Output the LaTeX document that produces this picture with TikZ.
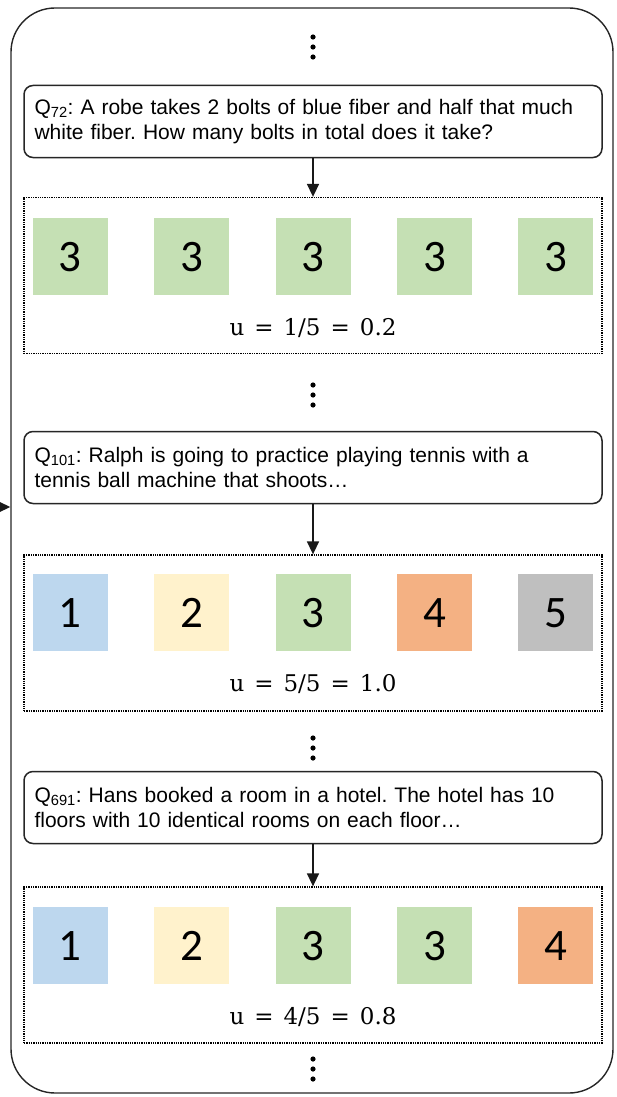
\documentclass[tikz,border=0pt]{standalone}
\usepackage[no-math]{fontspec}
\setmainfont{Liberation Sans}
\newfontfamily\digitfont{Carlito}
\newfontfamily\formulafont{DejaVu Serif}
\usepackage{xcolor}
\usepackage{tikz}
\usetikzlibrary{arrows.meta, positioning, calc}
\definecolor{sqblue}{HTML}{BDD7EE}
\definecolor{sqyellow}{HTML}{FFF2CC}
\definecolor{sqgreen}{HTML}{C5E0B4}
\definecolor{sqorange}{HTML}{F4B183}
\definecolor{sqgray}{HTML}{BFBFBF}
\newcommand{\ueq}[2]{u\hspace{10pt}=\hspace{10pt}#1\hspace{10pt}=\hspace{10pt}#2}
\frenchspacing

\begin{document}
\begin{tikzpicture}[x=1pt, y=1pt,
  outerbox/.style={draw=black!85, line width=1.4pt, rounded corners=44pt,
    minimum width=602pt, minimum height=1085pt, inner sep=0pt},
  qbox/.style={draw=black!85, line width=1.5pt, rounded corners=9pt,
    minimum width=578pt, minimum height=72pt, text width=557pt, align=left,
    font=\fontsize{21}{25}\selectfont, inner sep=0pt},
  rbox/.style={draw=black, densely dotted, line width=1.3pt,
    minimum width=578pt, minimum height=156pt, inner sep=0pt},
  sq/.style={rectangle, minimum width=75pt, minimum height=77pt, inner sep=0pt,
    font=\digitfont\fontsize{45}{45}\selectfont},
  utext/.style={font=\formulafont\fontsize{23}{26}\selectfont, inner sep=0pt},
  vdot/.style={minimum width=7pt, minimum height=28pt, inner sep=0pt,
    path picture={\fill (path picture bounding box.center) circle (2.6pt)
      +(0,10pt) circle (2.6pt) +(0,-10pt) circle (2.6pt);}},
  arr/.style={-{Triangle[length=13pt, width=12pt]}, line width=1.5pt, black!90},
]
\useasboundingbox (0,0) rectangle (616,-1097);
\node[outerbox] (outer) at (312,-550.5) {};
%
% ====== Q72 ======
\node[vdot] (d1) at (313,-47) {};
\node[qbox] (q72) at (313,-121.5)
  {Q\textsubscript{72}: A robe takes 2 bolts of blue fiber and half that much\\
   white fiber. How many bolts in total does it take?};
\node[rbox] (r72) at (313,-275.5) {};
\node[sq, fill=sqgreen] (s72c) at ($(r72.north)+(0,-60)$) {3};
\node[sq, fill=sqgreen, left=46pt of s72c] (s72b) {3};
\node[sq, fill=sqgreen, left=46pt of s72b] (s72a) {3};
\node[sq, fill=sqgreen, right=46pt of s72c] (s72d) {3};
\node[sq, fill=sqgreen, right=46pt of s72d] (s72e) {3};
\node[utext] (u72) at ($(r72.north)+(0,-131)$) {\ueq{1/5}{0.2}};
\draw[arr] (q72) -- (r72);
%
% ====== Q101 ======
\node[vdot] (d2) at (313,-395) {};
\node[qbox] (q101) at (313,-467.5)
  {Q\textsubscript{101}: Ralph is going to practice playing tennis with a\\
   tennis ball machine that shoots\ldots};
\node[rbox] (r101) at (313,-633) {};
\node[sq, fill=sqgreen] (s101c) at ($(r101.north)+(0,-58.5)$) {3};
\node[sq, fill=sqyellow, left=46pt of s101c] (s101b) {2};
\node[sq, fill=sqblue, left=46pt of s101b] (s101a) {1};
\node[sq, fill=sqorange, right=46pt of s101c] (s101d) {4};
\node[sq, fill=sqgray, right=46pt of s101d] (s101e) {5};
\node[utext] (u101) at ($(r101.north)+(0,-130)$) {\ueq{5/5}{1.0}};
\draw[arr] (q101) -- (r101);
%
% ====== Q691 ======
\node[vdot] (d3) at (313,-748) {};
\node[qbox] (q691) at (313,-807.5)
  {Q\textsubscript{691}: Hans booked a room in a hotel. The hotel has 10\\
   floors with 10 identical rooms on each floor\ldots};
\node[rbox] (r691) at (313,-965) {};
\node[sq, fill=sqgreen] (s691c) at ($(r691.north)+(0,-59.5)$) {3};
\node[sq, fill=sqyellow, left=46pt of s691c] (s691b) {2};
\node[sq, fill=sqblue, left=46pt of s691b] (s691a) {1};
\node[sq, fill=sqgreen, right=46pt of s691c] (s691d) {3};
\node[sq, fill=sqorange, right=46pt of s691d] (s691e) {4};
\node[utext] (u691) at ($(r691.north)+(0,-131)$) {\ueq{4/5}{0.8}};
\draw[arr] (q691) -- (r691);
\node[vdot] (d4) at (313,-1069) {};
%
% incoming arrow from the left
\coordinate (feed) at (0,-507);
\draw[arr] (feed) -- (feed -| outer.west);
\end{tikzpicture}
\end{document}
